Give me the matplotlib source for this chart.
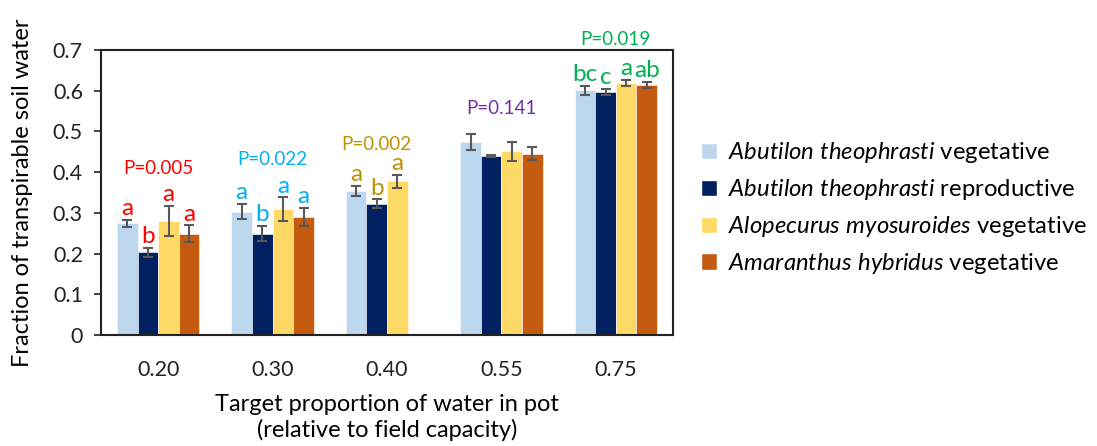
import numpy as np
import matplotlib
matplotlib.use('Agg')
import matplotlib.pyplot as plt
from matplotlib.patches import Patch

plt.rcParams['font.family'] = ['Lato', 'DejaVu Sans']
plt.rcParams['mathtext.fontset'] = 'custom'
plt.rcParams['mathtext.rm'] = 'Lato'
plt.rcParams['mathtext.it'] = 'Lato:italic'

# data
targets = ['0.20', '0.30', '0.40', '0.55', '0.75']
series = ['$\\it{Abutilon\\ theophrasti}$ vegetative',
          '$\\it{Abutilon\\ theophrasti}$ reproductive',
          '$\\it{Alopecurus\\ myosuroides}$ vegetative',
          '$\\it{Amaranthus\\ hybridus}$ vegetative']
ab_veg = [0.274, 0.303, 0.354, 0.474, 0.601]
ab_rep = [0.203, 0.249, 0.322, 0.440, 0.597]
al_veg = [0.280, 0.309, 0.378, 0.451, 0.619]
am_veg = [0.249, 0.290, np.nan, 0.445, 0.614]
ab_veg_err = [0.009, 0.018, 0.013, 0.020, 0.011]
ab_rep_err = [0.011, 0.018, 0.011, 0.002, 0.007]
al_veg_err = [0.038, 0.029, 0.016, 0.024, 0.008]
am_veg_err = [0.020, 0.022, 0.0, 0.016, 0.007]
letters = [['a', 'b', 'a', 'a'],
           ['a', 'b', 'a', 'a'],
           ['a', 'b', 'a', ''],
           ['', '', '', ''],
           ['bc', 'c', 'a', 'ab']]
pvals = ['P=0.005', 'P=0.022', 'P=0.002', 'P=0.141', 'P=0.019']
pval_y = [0.408, 0.430, 0.469, 0.557, 0.726]

colors = ['#BDD7EE', '#002060', '#FFD966', '#C55A11']
text_colors = ['#FF0000', '#00B0F0', '#BF9000', '#7030A0', '#00B050']

values = [ab_veg, ab_rep, al_veg, am_veg]
errors = [ab_veg_err, ab_rep_err, al_veg_err, am_veg_err]

fig = plt.figure(figsize=(10.97, 4.46), dpi=100)
ax = fig.add_axes([0.0921, 0.2489, 0.5214, 0.6390])

x = np.arange(len(targets))
w = 0.18
for i in range(4):
    pos = x + (i - 1.5) * w
    ax.bar(pos, values[i], w, color=colors[i], edgecolor='white', linewidth=0.4,
           label=series[i])
    ax.errorbar(pos, values[i], yerr=errors[i], fmt='none', ecolor='#595959',
                elinewidth=1.5, capsize=3.5, capthick=1.5)

# significance letters
for g in range(len(targets)):
    for i in range(4):
        if letters[g][i] == '':
            continue
        top = values[i][g] + errors[i][g]
        ax.annotate(letters[g][i], (x[g] + (i - 1.5) * w, top), xytext=(0, 3.5),
                    textcoords='offset points', ha='center', va='baseline',
                    fontsize=17.5, color=text_colors[g], annotation_clip=False)

# P values
p_x = [0, 1, 2 - 0.5 * w, 3, 4]
for g in range(len(targets)):
    ax.text(p_x[g], pval_y[g], pvals[g], ha='center', va='center', fontsize=13.5,
            color=text_colors[g], clip_on=False)

ax.set_xlim(-0.5, 4.5)
ax.set_ylim(0, 0.7)
ax.set_yticks(np.arange(0, 0.71, 0.1))
ax.set_yticklabels(['0'] + ['%.1f' % v for v in np.arange(0.1, 0.71, 0.1)])
ax.set_xticks(x)
ax.set_xticklabels(targets)
ax.tick_params(axis='x', length=0, pad=18, labelsize=15.5, colors='#222222')
ax.tick_params(axis='y', length=5, width=1.2, direction='out', pad=8,
               labelsize=15.5, colors='#222222')
for sp in ax.spines.values():
    sp.set_linewidth(1.5)
    sp.set_color('#222222')

ax.set_ylabel('Fraction of transpirable soil water', fontsize=17, labelpad=14)
ax.set_xlabel('Target proportion of water in pot\n(relative to field capacity)',
              fontsize=17, labelpad=10, linespacing=1.2)

handles = [Patch(facecolor=c, edgecolor='white') for c in colors]
fig.legend(handles, series, loc='center left', bbox_to_anchor=(0.619, 0.533),
           frameon=False, fontsize=17.2, handlelength=0.7, handleheight=0.7,
           handletextpad=0.45, labelspacing=0.5)

fig.savefig('out.png', dpi=100)
